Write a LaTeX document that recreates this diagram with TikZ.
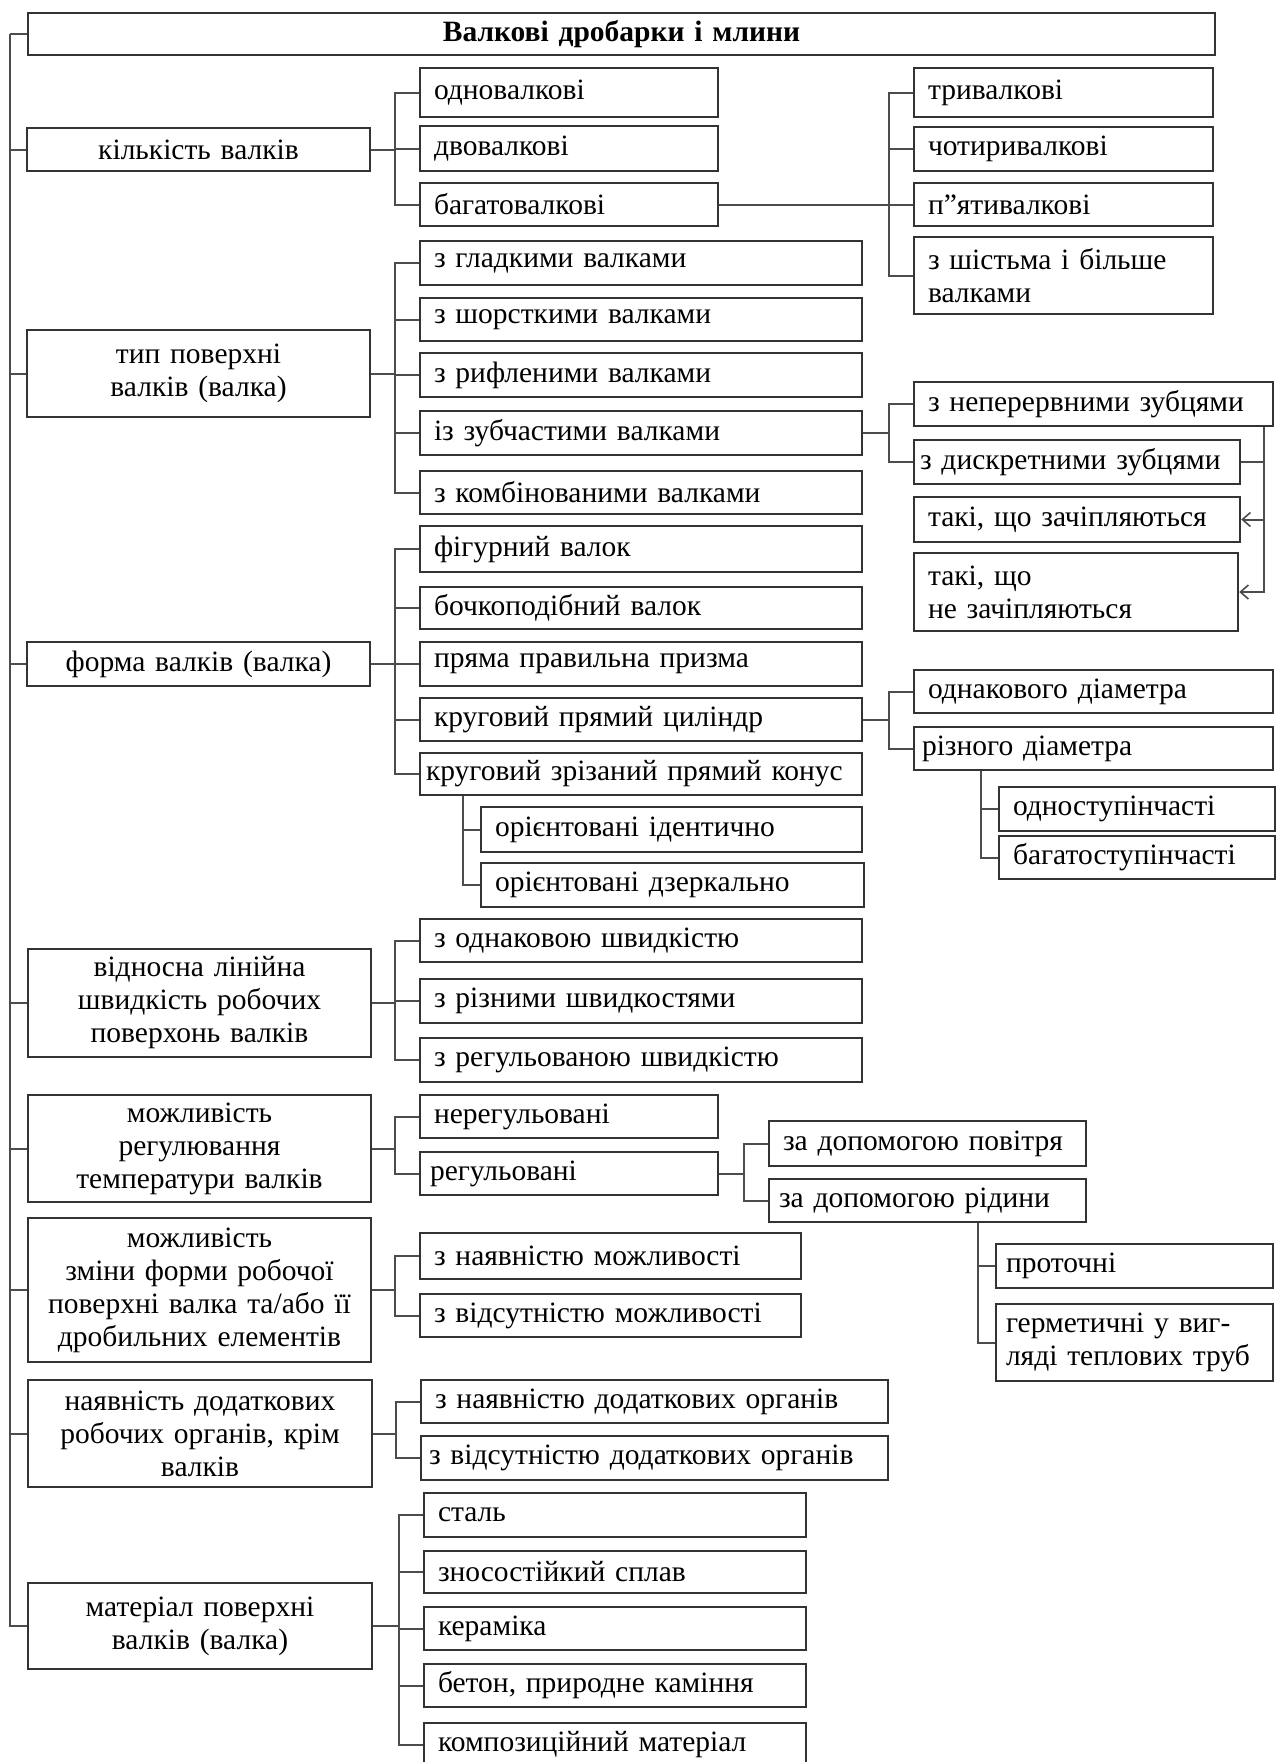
\documentclass[tikz,border=0pt]{standalone}
\usepackage{fontspec}
\setmainfont{Liberation Serif}
\usetikzlibrary{calc,arrows.meta}
\tikzset{
  boxline/.style={draw=black!80, line width=2.4pt},
  itembox/.style={boxline, rectangle, inner ysep=0pt, align=left},
  catbox/.style={boxline, rectangle, inner ysep=0pt, align=center},
  link/.style={draw=black!70, line width=2pt},
  tip/.style={-{Straight Barb[length=8pt,width=14pt,line width=1.6pt]}},
}
\newcommand{\boxat}[8]{%
  \pgfmathsetmacro\bxw{#6-#4}%
  \pgfmathsetmacro\bxh{#7-#5}%
  \pgfmathsetmacro\bxt{#6-#4-2*#2}%
  \node[#1, inner xsep=#2pt, minimum width=\bxw pt, minimum height=\bxh pt,
        text width=\bxt pt] (#3) at ({(#4+#6)/2},{(#5+#7)/2}) {#8};}
\newcommand{\bx}[7][14]{\boxat{itembox}{#1}{#2}{#3}{#4}{#5}{#6}{#7}}
\newcommand{\cbx}[6]{\boxat{catbox}{6}{#1}{#2}{#3}{#4}{#5}{#6}}

\begin{document}
\begin{tikzpicture}[x=1pt, y=-1pt, font=\fontsize{29.5}{33}\selectfont]
  \useasboundingbox (0,0) rectangle (1278,1762);

  \cbx{title}{28}{13}{1215}{55}{\bfseries Валкові дробарки і млини}

  \cbx{kil}{27}{128}{370}{171}{кількість валків}
  \bx{odno}{420}{68}{718}{117}{одновалкові}
  \bx{dvo}{420}{126}{718}{171}{двовалкові}
  \bx{bagato}{420}{183}{718}{226}{багатовалкові}
  \bx{try}{914}{68}{1213}{117}{тривалкові}
  \bx{chot}{914}{127}{1213}{171}{чотиривалкові}
  \bx{pyat}{914}{183}{1213}{226}{п"ятивалкові}
  \bx{shist}{914}{237}{1213}{314}{з шістьма і більше\\валками}

  \cbx{typ}{27}{330}{370}{417}{тип поверхні\\валків (валка)}
  \bx{glad}{420}{241}{862}{285}{з гладкими валками}
  \bx{shor}{420}{298}{862}{341}{з шорсткими валками}
  \bx{ryf}{420}{353}{862}{397}{з рифленими валками}
  \bx{zub}{420}{411}{862}{455}{із зубчастими валками}
  \bx{komb}{420}{471}{862}{514}{з комбінованими валками}
  \bx{nep}{914}{382}{1273}{426}{з неперервними зубцями}
  \bx[6]{dysk}{914}{440}{1240}{484}{з дискретними зубцями}
  \bx{zach}{914}{497}{1240}{542}{такі, що зачіпляються}
  \bx{nezach}{914}{553}{1238}{631}{такі, що\\не зачіпляються}

  \cbx{form}{27}{642}{370}{686}{форма валків (валка)}
  \bx{fig}{420}{526}{862}{572}{фігурний валок}
  \bx{boch}{420}{587}{862}{629}{бочкоподібний валок}
  \bx{pryzm}{420}{642}{862}{686}{пряма правильна призма}
  \bx{cyl}{420}{698}{862}{741}{круговий прямий циліндр}
  \bx[6]{kon}{420}{753}{862}{795}{круговий зрізаний прямий конус}
  \bx{orid}{481}{807}{862}{852}{орієнтовані ідентично}
  \bx{orzd}{481}{863}{864}{907}{орієнтовані дзеркально}
  \bx{odd}{914}{670}{1273}{713}{однакового діаметра}
  \bx[8]{rizd}{914}{727}{1273}{770}{різного діаметра}
  \bx{odst}{999}{787}{1275}{831}{одноступінчасті}
  \bx{bagst}{999}{836}{1275}{879}{багатоступінчасті}

  \cbx{vidn}{28}{949}{371}{1057}{відносна лінійна\\швидкість робочих\\поверхонь валків}
  \bx{odsh}{420}{919}{862}{962}{з однаковою швидкістю}
  \bx{rizsh}{420}{979}{862}{1023}{з різними швидкостями}
  \bx{regsh}{420}{1038}{862}{1082}{з регульованою швидкістю}

  \cbx{mozhr}{28}{1095}{371}{1202}{можливість\\регулювання\\температури валків}
  \bx{nereg}{420}{1095}{718}{1138}{нерегульовані}
  \bx[10]{reg}{420}{1152}{718}{1195}{регульовані}
  \bx{pov}{769}{1121}{1086}{1166}{за допомогою повітря}
  \bx[10]{rid}{769}{1179}{1086}{1222}{за допомогою рідини}
  \bx[10]{prot}{996}{1244}{1273}{1288}{проточні}
  \bx[10]{herm}{996}{1304}{1273}{1381}{герметичні у виг-\\ляді теплових труб}

  \cbx{mozhz}{28}{1218}{371}{1362}{можливість\\зміни форми робочої\\поверхні валка та/або її\\дробильних елементів}
  \bx{nayavm}{420}{1233}{801}{1279}{з наявністю можливості}
  \bx{vidm}{420}{1294}{801}{1337}{з відсутністю можливості}

  \cbx{nayav}{28}{1380}{372}{1487}{наявність додаткових\\робочих органів, крім\\валків}
  \bx{nayavo}{421}{1380}{888}{1423}{з наявністю додаткових органів}
  \bx[8]{vido}{421}{1436}{888}{1480}{з відсутністю додаткових органів}

  \cbx{mat}{28}{1583}{372}{1669}{матеріал поверхні\\валків (валка)}
  \bx{stal}{424}{1493}{806}{1537}{сталь}
  \bx{znos}{424}{1551}{806}{1593}{зносостійкий сплав}
  \bx{ker}{424}{1607}{806}{1650}{кераміка}
  \bx{bet}{424}{1664}{806}{1707}{бетон, природне каміння}
  \bx{komp}{424}{1723}{806}{1767}{композиційний матеріал}

  \draw[link] (title.west) -- ++(-17pt,0);
  \foreach \c in {kil,typ,form,vidn,mozhr,mozhz,nayav,mat}
    \draw[link] ([xshift=-17pt]title.west) |- (\c.west);

  \foreach \p/\c in {kil/odno,kil/dvo,kil/bagato,
                     bagato/try,bagato/chot,bagato/pyat,bagato/shist,
                     typ/glad,typ/shor,typ/ryf,typ/zub,typ/komb,
                     zub/nep,zub/dysk,
                     form/fig,form/boch,form/pryzm,form/cyl,form/kon,
                     cyl/odd,cyl/rizd,
                     vidn/odsh,vidn/rizsh,vidn/regsh,
                     mozhr/nereg,mozhr/reg,reg/pov,reg/rid,
                     mozhz/nayavm,mozhz/vidm,
                     nayav/nayavo,nayav/vido,
                     mat/stal,mat/znos,mat/ker,mat/bet,mat/komp}
    \draw[link] (\p.east) -| ([xshift=-24pt]\c.west) -- (\c.west);

  \foreach \p/\c in {kon/orid,kon/orzd,rizd/odst,rizd/bagst,rid/prot,rid/herm}
    \draw[link] ($(\p.south -| \c.west)+(-17,0)$) |- (\c.west);

  \coordinate (zdown) at ($(nep.south east)+(-10,0)$);
  \draw[link] (dysk.east) -- (dysk.east -| zdown);
  \draw[link,tip] (zdown) |- (zach.east);
  \draw[link,tip] (zdown) |- (nezach.east);
\end{tikzpicture}
\end{document}
